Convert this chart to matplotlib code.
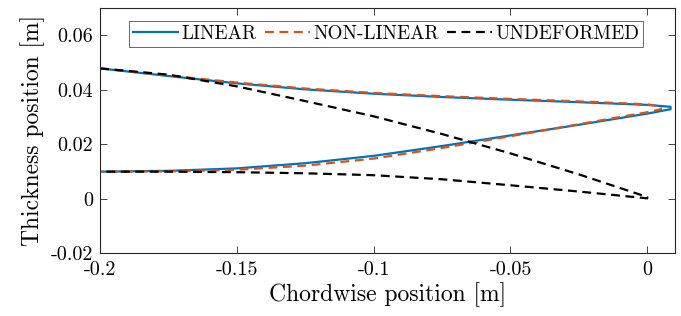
import numpy as np
import matplotlib.pyplot as plt

plt.rcParams['font.family'] = 'serif'
plt.rcParams['font.serif'] = ['cmr10']
plt.rcParams['axes.unicode_minus'] = False
plt.rcParams['axes.formatter.use_mathtext'] = True

# chordwise stations (leading part -> trailing edge)
x_st = [-0.2, -0.175, -0.15, -0.125, -0.1, -0.075, -0.05, -0.025, 0.0]

# linear deformation
x_lin = x_st + [0.0085]
lin_up = [0.0478, 0.0450, 0.0423, 0.0401, 0.0385, 0.0373, 0.0363, 0.0354, 0.0344, 0.0337]
lin_lo = [0.0099, 0.0102, 0.0111, 0.0130, 0.0157, 0.0193, 0.0232, 0.0271, 0.0312, 0.0328]

# non-linear deformation
x_nl = x_st + [0.005]
nl_up = [0.0478, 0.0452, 0.0426, 0.0404, 0.0388, 0.0376, 0.0366, 0.0357, 0.0346, 0.0338]
nl_lo = [0.0099, 0.0100, 0.0106, 0.0121, 0.0147, 0.0186, 0.0229, 0.0273, 0.0317, 0.0328]

# undeformed section
x_und = x_st
und_up = [0.0478, 0.0455, 0.0412, 0.0358, 0.0302, 0.0237, 0.0166, 0.0089, 0.0006]
und_lo = [0.0099, 0.0099, 0.0097, 0.0093, 0.0086, 0.0071, 0.0049, 0.0026, 0.0001]

x_ticks = [-0.2, -0.15, -0.1, -0.05, 0]
x_labels = ['-0.2', '-0.15', '-0.1', '-0.05', '0']
y_ticks = [-0.02, 0, 0.02, 0.04, 0.06]
y_labels = ['-0.02', '0', '0.02', '0.04', '0.06']


def outline(x, up, lo):
    # upper surface to the tip, then lower surface back
    xx = list(x) + list(x[::-1])
    yy = list(up) + list(lo[::-1])
    return xx, yy


fig = plt.figure(figsize=(6.81, 3.16), dpi=100)
ax = fig.add_axes([0.147, 0.199, 0.8436, 0.776])

xx, yy = outline(x_lin, lin_up, lin_lo)
ax.plot(xx, yy, color='#0072BD', lw=1.6, label='LINEAR')
xx, yy = outline(x_nl, nl_up, nl_lo)
ax.plot(xx, yy, color='#D95319', lw=1.6, dashes=(4, 2.5), label='NON-LINEAR')
xx, yy = outline(x_und, und_up, und_lo)
ax.plot(xx, yy, color='black', lw=1.6, dashes=(4, 2.5), label='UNDEFORMED')

ax.set_xlim(-0.2, 0.01)
ax.set_ylim(-0.02, 0.07)
ax.set_xticks(x_ticks)
ax.set_xticklabels(x_labels)
ax.set_yticks(y_ticks)
ax.set_yticklabels(y_labels)
ax.tick_params(direction='in', length=5, width=0.6, top=True, right=True,
               labelsize=14.5, colors='#262626', labelcolor='black')
ax.tick_params(axis='x', pad=6)
ax.tick_params(axis='y', pad=5)
for s in ax.spines.values():
    s.set_color('#262626')
    s.set_linewidth(0.8)

ax.set_xlabel('Chordwise position [m]', fontsize=17, labelpad=2)
ax.set_ylabel('Thickness position [m]', fontsize=17, labelpad=4)

leg = ax.legend(loc='upper center', bbox_to_anchor=(0.498, 0.945), ncol=3,
                fontsize=13.8, frameon=True, fancybox=False, handlelength=2.35,
                handletextpad=0.15, columnspacing=0.45, borderpad=0.2,
                borderaxespad=0)
leg.get_frame().set_edgecolor('#262626')
leg.get_frame().set_linewidth(0.6)

fig.savefig('out.png', dpi=100)
